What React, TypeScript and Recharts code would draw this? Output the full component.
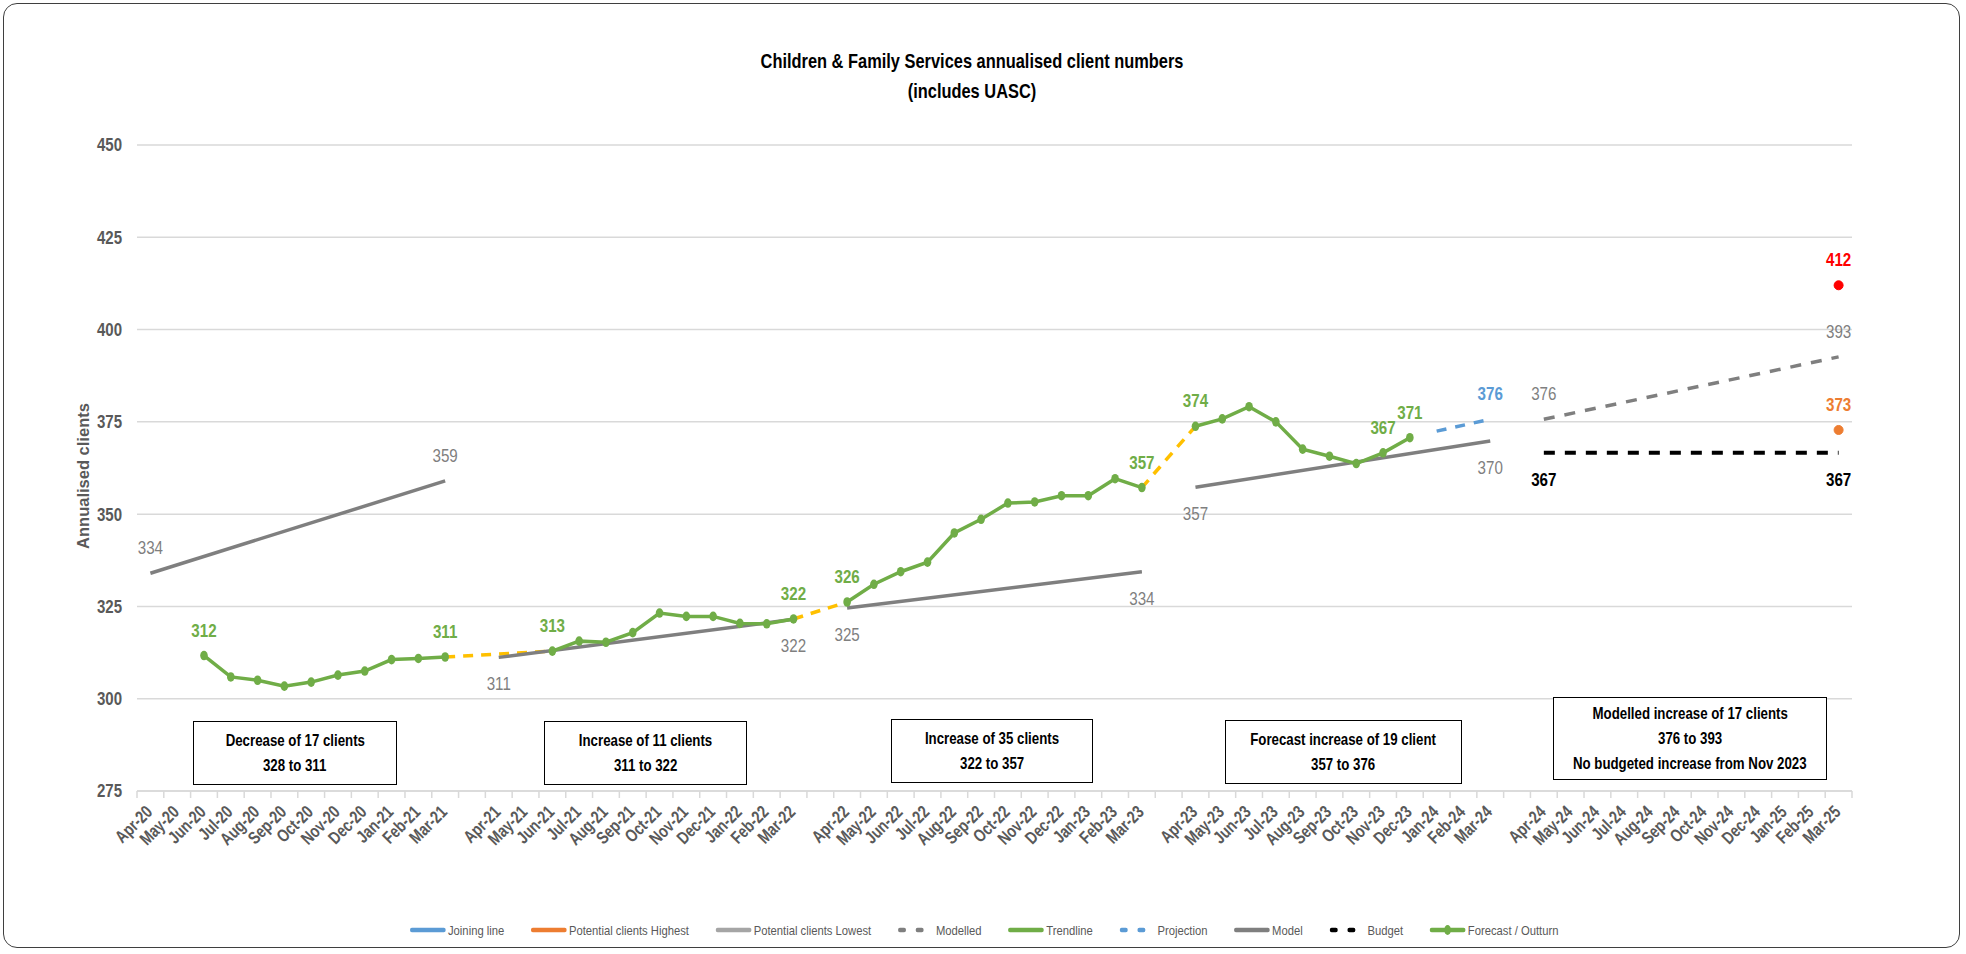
import React from "react";
import { LineChart, Line, XAxis, YAxis, CartesianGrid, Legend, LabelList } from "recharts";

// Children & Family Services annualised client numbers, Apr-20 .. Mar-25.
// Each financial year is its own block of 12 months, with an empty slot between years.

const FONT = '"Liberation Sans", Arial, sans-serif';
const COND = 0.84; // squeeze Liberation Sans towards the narrow look of the original
const W = 1966;
const H = 954;
const MARGIN = { top: 145, right: 114, left: 0, bottom: 9 };
const Y_AXIS_W = 137;

const months2021 = ["Apr-20", "May-20", "Jun-20", "Jul-20", "Aug-20", "Sep-20", "Oct-20", "Nov-20", "Dec-20", "Jan-21", "Feb-21", "Mar-21"];
const months2122 = ["Apr-21", "May-21", "Jun-21", "Jul-21", "Aug-21", "Sep-21", "Oct-21", "Nov-21", "Dec-21", "Jan-22", "Feb-22", "Mar-22"];
const months2223 = ["Apr-22", "May-22", "Jun-22", "Jul-22", "Aug-22", "Sep-22", "Oct-22", "Nov-22", "Dec-22", "Jan-23", "Feb-23", "Mar-23"];
const months2324 = ["Apr-23", "May-23", "Jun-23", "Jul-23", "Aug-23", "Sep-23", "Oct-23", "Nov-23", "Dec-23", "Jan-24", "Feb-24", "Mar-24"];
const months2425 = ["Apr-24", "May-24", "Jun-24", "Jul-24", "Aug-24", "Sep-24", "Oct-24", "Nov-24", "Dec-24", "Jan-25", "Feb-25", "Mar-25"];

// forecast / outturn, one value per month of each year
const outturn2021 = [null, null, 311.7, 305.9, 305.0, 303.4, 304.5, 306.4, 307.5, 310.6, 310.9, 311.3];
const outturn2122 = [null, null, 312.9, 315.6, 315.3, 317.9, 323.2, 322.3, 322.3, 320.4, 320.3, 321.6];
const outturn2223 = [326.2, 331.0, 334.4, 337.0, 344.9, 348.6, 353.0, 353.3, 355.0, 355.0, 359.6, 357.2];
const outturn2324 = [373.8, 375.8, 379.1, 375.0, 367.6, 365.7, 363.7, 366.6, 370.7, null, null, null];
const outturnLabelMonths = ["Jun-20", "Mar-21", "Jun-21", "Mar-22", "Apr-22", "Mar-23", "Apr-23", "Nov-23", "Dec-23"];

// straight segments, given by their end points
type Pt = [string, number];
const model2021: Pt[] = [["Apr-20", 334], ["Mar-21", 359]];
const model2122: Pt[] = [["Apr-21", 311.2], ["Mar-22", 321.5]];
const model2223: Pt[] = [["Apr-22", 324.6], ["Mar-23", 334.4]];
const model2324: Pt[] = [["Apr-23", 357.3], ["Mar-24", 369.8]];
const modelled2425: Pt[] = [["Apr-24", 375.7], ["Mar-25", 392.6]];
const budget2425: Pt[] = [["Apr-24", 366.6], ["Mar-25", 366.6]];
const projection: Pt[] = [["Jan-24", 372.5], ["Mar-24", 375.7]];
const join2122: Pt[] = [["Mar-21", 311.3], ["Jun-21", 312.9]];
const join2223: Pt[] = [["Mar-22", 321.6], ["Apr-22", 326.2]];
const join2324: Pt[] = [["Mar-23", 357.2], ["Apr-23", 373.8]];
const potentialHighest: Pt[] = [["Mar-25", 412]];
const potentialLowest: Pt[] = [["Mar-25", 372.8]];

const yTicks = [275, 300, 325, 350, 375, 400, 425, 450];

const yearMonths = [months2021, months2122, months2223, months2324, months2425];
const outturnYears = [outturn2021, outturn2122, outturn2223, outturn2324];

const categories: string[] = [];
yearMonths.forEach((ms, i) => {
  if (i > 0) categories.push("");
  categories.push(...ms);
});

const outturnByMonth = new Map<string, number>();
yearMonths.forEach((ms, i) =>
  ms.forEach((m, j) => {
    const v = outturnYears[i]?.[j];
    if (v != null) outturnByMonth.set(m, v);
  })
);

const segments: Record<string, Pt[]> = {
  model2021, model2122, model2223, model2324, modelled2425, budget2425,
  projection, join2122, join2223, join2324, potentialHighest, potentialLowest,
};

const rows = categories.map((m, i) => {
  const row: Record<string, any> = { slot: i, m };
  row.outturn = outturnByMonth.get(m) ?? null;
  row.outturnLabel = outturnLabelMonths.includes(m) ? row.outturn : null;
  for (const [k, pts] of Object.entries(segments)) {
    const hit = pts.find((p) => p[0] === m);
    row[k] = hit ? hit[1] : null;
  }
  // projection is only labelled at its end
  row.projectionLabel = m === projection[projection.length - 1][0] ? row.projection : null;
  return row;
});

const PLOT_W = W - Y_AXIS_W - MARGIN.right;
const SLOT = PLOT_W / categories.length;

const GREEN = "#70AD47";
const GREY = "#7F7F7F";
const BLUE = "#5B9BD5";
const AXIS_TEXT = "#595959";

const valueLabel = (color: string, dy: number, weight = 700) => (props: any) => {
  const { x, y, value } = props;
  if (value == null || x == null || y == null) return null;
  return (
    <text
      transform={`translate(${x} ${y + dy}) scale(0.82 1)`}
      fill={color}
      textAnchor="middle"
      dominantBaseline="central"
      fontFamily={FONT}
      fontSize={18.5}
      fontWeight={weight}
    >
      {Math.round(Number(value))}
    </text>
  );
};

// outturn marker: slightly tall, like the original's squeezed diamonds
const OutturnDot = (props: any) => {
  const { cx, cy } = props;
  if (cx == null || cy == null) return null;
  return <ellipse cx={cx} cy={cy} rx={3.8} ry={4.8} fill={GREEN} />;
};

const XTick = (props: any) => {
  const { x, y, payload, index } = props;
  const left = x - SLOT / 2;
  const last = index === categories.length - 1;
  return (
    <g>
      <line x1={left} x2={left} y1={y} y2={y + 7} stroke="#D9D9D9" strokeWidth={1.5} />
      {last && <line x1={x + SLOT / 2} x2={x + SLOT / 2} y1={y} y2={y + 7} stroke="#D9D9D9" strokeWidth={1.5} />}
      {payload.value ? (
        <text
          transform={`translate(${x + 3} ${y + 22}) rotate(-45) scale(0.78 1)`}
          textAnchor="end"
          fill={AXIS_TEXT}
          fontFamily={FONT}
          fontSize={17.8}
          fontWeight={700}
        >
          {payload.value}
        </text>
      ) : null}
    </g>
  );
};

const YTick = (props: any) => {
  const { x, y, payload } = props;
  return (
    <text
      transform={`translate(${x} ${y}) scale(0.86 1)`}
      textAnchor="end"
      dominantBaseline="central"
      fill={AXIS_TEXT}
      fontFamily={FONT}
      fontSize={17.5}
      fontWeight={700}
    >
      {payload.value}
    </text>
  );
};

const legendItems = [
  { name: "Joining line", color: BLUE, dash: false, marker: false },
  { name: "Potential clients Highest", color: "#ED7D31", dash: false, marker: false },
  { name: "Potential clients Lowest", color: "#A5A5A5", dash: false, marker: false },
  { name: "Modelled", color: GREY, dash: true, marker: false },
  { name: "Trendline", color: GREEN, dash: false, marker: false },
  { name: "Projection", color: BLUE, dash: true, marker: false },
  { name: "Model", color: GREY, dash: false, marker: false },
  { name: "Budget", color: "#000000", dash: true, marker: false },
  { name: "Forecast / Outturn", color: GREEN, dash: false, marker: true },
];

const LegendRow = () => (
  <div style={{ width: W, height: 30, display: "flex", justifyContent: "center", alignItems: "center" }}>
    <div
      style={{
        display: "flex", alignItems: "center", gap: 30, transform: `scaleX(${COND})`,
        fontFamily: FONT, fontSize: 13.4, color: AXIS_TEXT, whiteSpace: "nowrap",
      }}
    >
      {legendItems.map((it) => (
        <div key={it.name} style={{ display: "flex", alignItems: "center" }}>
          <svg width={46} height={12} style={{ marginRight: 1 }}>
            <line
              x1={4}
              x2={42}
              y1={6}
              y2={6}
              stroke={it.color}
              strokeWidth={4.5}
              strokeLinecap="round"
              strokeDasharray={it.dash ? "5 16" : undefined}
            />
            {it.marker && <ellipse cx={23} cy={6} rx={4} ry={5} fill={it.color} />}
          </svg>
          <span>{it.name}</span>
        </div>
      ))}
    </div>
  </div>
);

const boxes = [
  { left: 193, top: 721, width: 204, height: 64, lines: ["Decrease of 17 clients", "328 to 311"] },
  { left: 544, top: 721, width: 203, height: 64, lines: ["Increase of 11 clients", "311 to 322"] },
  { left: 891, top: 719, width: 202, height: 64, lines: ["Increase of 35 clients", "322 to 357"] },
  { left: 1225, top: 720, width: 237, height: 64, lines: ["Forecast increase of 19 client", "357 to 376"] },
  { left: 1553, top: 697, width: 274, height: 83, lines: ["Modelled increase of 17 clients", "376 to 393", "No budgeted increase from Nov 2023"] },
];

const seg = (key: string, stroke: string, width: number, dash?: string) => (
  <Line
    key={key}
    dataKey={key}
    type="linear"
    stroke={stroke}
    strokeWidth={width}
    strokeDasharray={dash}
    dot={false}
    activeDot={false}
    connectNulls
    isAnimationActive={false}
    legendType="none"
  />
);

export default function App() {
  return (
    <div style={{ position: "absolute", left: 0, top: 0, width: W, height: H, background: "#fff", overflow: "hidden" }}>
      <div
        style={{
          position: "absolute", left: 3, top: 3, width: W - 9, height: H - 9,
          border: "1.5px solid #3f3f3f", borderRadius: 14, boxSizing: "border-box",
        }}
      />
      <div
        style={{
          position: "absolute", left: 622, top: 46, width: 700, textAlign: "center",
          fontFamily: FONT, fontWeight: 700, fontSize: 20.5, lineHeight: "30px", color: "#000",
          transform: "scaleX(0.8)",
        }}
      >
        <div>Children &amp; Family Services annualised client numbers</div>
        <div>(includes UASC)</div>
      </div>
      <div style={{ position: "absolute", left: 0, top: 0 }}>
        <LineChart width={W} height={H} data={rows} margin={MARGIN}>
          <CartesianGrid horizontal vertical={false} stroke="#D9D9D9" strokeWidth={1.5} />
          <XAxis
            dataKey="m"
            type="category"
            interval={0}
            padding={{ left: SLOT / 2, right: SLOT / 2 }}
            tick={<XTick />}
            tickLine={false}
            tickSize={0}
            tickMargin={0}
            axisLine={{ stroke: "#D9D9D9", strokeWidth: 1.5 }}
            height={124}
          />
          <YAxis
            type="number"
            domain={[275, 450]}
            ticks={yTicks}
            width={Y_AXIS_W}
            axisLine={false}
            tickLine={false}
            tickMargin={9}
            tick={<YTick />}
            label={{
              content: () => (
                <text
                  x={83}
                  y={476}
                  transform="rotate(-90 83 476)"
                  textAnchor="middle"
                  dominantBaseline="central"
                  fill={AXIS_TEXT}
                  fontFamily={FONT}
                  fontWeight={700}
                  fontSize={16.5}
                >
                  Annualised clients
                </text>
              ),
            }}
          />
          <Legend
            verticalAlign="bottom"
            height={30}
            wrapperStyle={{ left: 0, width: W }}
            content={() => <LegendRow />}
          />

          {seg("join2122", "#FFC000", 3.5, "10 8")}
          {seg("join2223", "#FFC000", 3.5, "10 8")}
          {seg("join2324", "#FFC000", 3.5, "10 8")}

          <Line dataKey="potentialHighest" stroke="none" dot={{ r: 4.5, fill: "#FF0000", stroke: "#FF0000" }} activeDot={false} isAnimationActive={false} legendType="none">
            <LabelList dataKey="potentialHighest" content={valueLabel("#FF0000", -25)} />
          </Line>
          <Line dataKey="potentialLowest" stroke="none" dot={{ r: 4.5, fill: "#ED7D31", stroke: "#ED7D31" }} activeDot={false} isAnimationActive={false} legendType="none">
            <LabelList dataKey="potentialLowest" content={valueLabel("#ED7D31", -25)} />
          </Line>

          <Line dataKey="modelled2425" stroke={GREY} strokeWidth={3.5} strokeDasharray="11 10" dot={false} activeDot={false} connectNulls isAnimationActive={false} legendType="none">
            <LabelList dataKey="modelled2425" content={valueLabel(GREY, -25, 400)} />
          </Line>
          <Line dataKey="projection" stroke={BLUE} strokeWidth={3.5} strokeDasharray="10 9" dot={false} activeDot={false} connectNulls isAnimationActive={false} legendType="none">
            <LabelList dataKey="projectionLabel" content={valueLabel(BLUE, -25)} />
          </Line>

          <Line dataKey="model2021" stroke={GREY} strokeWidth={3.5} dot={false} activeDot={false} connectNulls isAnimationActive={false} legendType="none">
            <LabelList dataKey="model2021" content={valueLabel(GREY, -25, 400)} />
          </Line>
          <Line dataKey="model2122" stroke={GREY} strokeWidth={3.5} dot={false} activeDot={false} connectNulls isAnimationActive={false} legendType="none">
            <LabelList dataKey="model2122" content={valueLabel(GREY, 27, 400)} />
          </Line>
          <Line dataKey="model2223" stroke={GREY} strokeWidth={3.5} dot={false} activeDot={false} connectNulls isAnimationActive={false} legendType="none">
            <LabelList dataKey="model2223" content={valueLabel(GREY, 27, 400)} />
          </Line>
          <Line dataKey="model2324" stroke={GREY} strokeWidth={3.5} dot={false} activeDot={false} connectNulls isAnimationActive={false} legendType="none">
            <LabelList dataKey="model2324" content={valueLabel(GREY, 27, 400)} />
          </Line>

          <Line dataKey="budget2425" stroke="#000" strokeWidth={4} strokeDasharray="11 10" dot={false} activeDot={false} connectNulls isAnimationActive={false} legendType="none">
            <LabelList dataKey="budget2425" content={valueLabel("#000", 27)} />
          </Line>

          <Line
            dataKey="outturn"
            stroke={GREEN}
            strokeWidth={3.5}
            dot={<OutturnDot />}
            activeDot={false}
            isAnimationActive={false}
            legendType="none"
          >
            <LabelList dataKey="outturnLabel" content={valueLabel(GREEN, -25)} />
          </Line>
        </LineChart>
      </div>
      {boxes.map((b) => (
        <div
          key={b.lines[0]}
          style={{
            position: "absolute", left: b.left, top: b.top, width: b.width, height: b.height,
            border: "1.5px solid #000", background: "#fff", boxSizing: "border-box",
            display: "flex", flexDirection: "column", justifyContent: "center", alignItems: "center",
            fontFamily: FONT, fontWeight: 700, fontSize: 17, lineHeight: "25px", color: "#000",
            whiteSpace: "nowrap",
          }}
        >
          {b.lines.map((l) => (
            <div key={l} style={{ transform: "scaleX(0.78)" }}>{l}</div>
          ))}
        </div>
      ))}
    </div>
  );
}
